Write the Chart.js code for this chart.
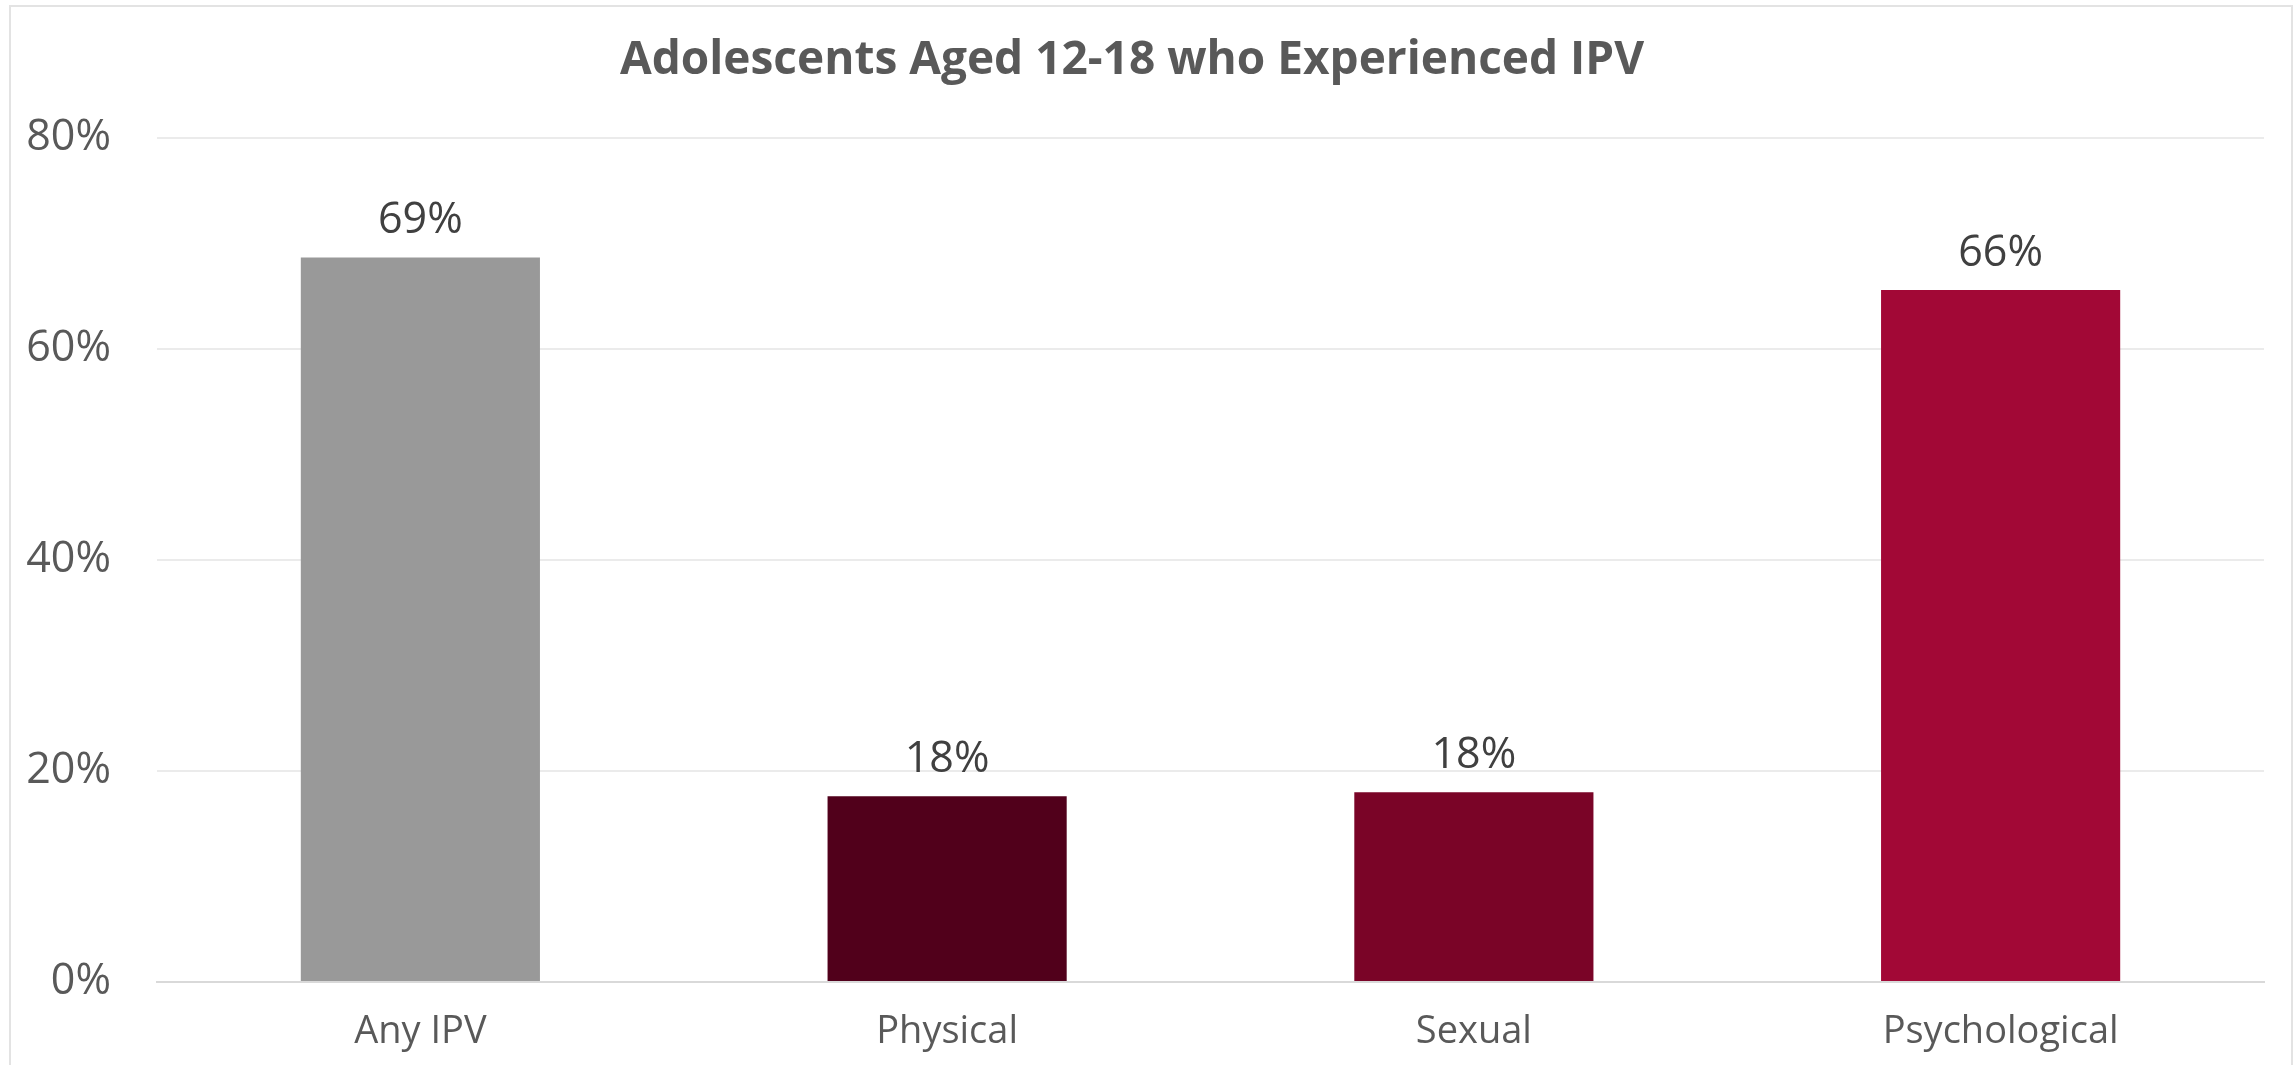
<!DOCTYPE html>
<html>
<head>
<meta charset="utf-8">
<script src="https://cdn.jsdelivr.net/npm/chart.js@4"></script>
<style>
  html, body { margin: 0; padding: 0; background: #fff; }
  #wrap { width: 2295px; height: 1065px; }
</style>
</head>
<body>
<div id="wrap"><canvas id="ipv-chart" width="2295" height="1065"></canvas></div>
<script>
const categories = ["Any IPV", "Physical", "Sexual", "Psychological"]
const percentages = [68.7, 17.6, 18.0, 65.6]
const barColors = ["#999999", "#51001B", "#7A0427", "#A20836"]
const yTicks = [0, 20, 40, 60, 80]

// frame around the whole chart, like the exported Excel image
const framePlugin = {
  id: "frame",
  beforeDraw(chart) {
    const ctx = chart.ctx
    ctx.save()
    ctx.strokeStyle = "#e3e3e3"
    ctx.lineWidth = 2
    ctx.strokeRect(10, 6, chart.width - 13, chart.height + 10)
    ctx.restore()
  }
}

// value labels above each bar
const valueLabels = {
  id: "valueLabels",
  afterDatasetsDraw(chart) {
    const ctx = chart.ctx
    const meta = chart.getDatasetMeta(0)
    ctx.save()
    ctx.font = "43px 'Open Sans'"
    ctx.fillStyle = "#404040"
    ctx.textAlign = "center"
    ctx.textBaseline = "alphabetic"
    meta.data.forEach((bar, i) => {
      ctx.fillText(Math.round(percentages[i]) + "%", bar.x, bar.y - 24)
    })
    ctx.restore()
  }
}

const chart = new Chart(document.getElementById("ipv-chart"), {
  type: "bar",
  data: {
    labels: categories,
    datasets: [{
      data: percentages,
      backgroundColor: barColors,
      borderWidth: 0,
      categoryPercentage: 1,
      barPercentage: 0.454
    }]
  },
  options: {
    responsive: false,
    devicePixelRatio: 1,
    animation: false,
    layout: { padding: { left: 0, right: 31, top: 0, bottom: 0 } },
    plugins: {
      legend: { display: false },
      tooltip: { enabled: false },
      title: {
        display: true,
        text: "Adolescents Aged 12-18 who Experienced IPV",
        color: "#595959",
        font: { family: "'Open Sans'", size: 46, weight: "bold" },
        padding: { top: 33, bottom: 50 }
      }
    },
    scales: {
      x: {
        afterFit(axis) { axis.height = 83 },
        grid: { display: false, drawTicks: false },
        border: { color: "#d9d9d9", width: 2 },
        ticks: {
          color: "#595959",
          font: { family: "'Open Sans'", size: 38 },
          padding: 27
        }
      },
      y: {
        min: 0,
        max: 80,
        afterBuildTicks(axis) {
          axis.ticks = yTicks.map(v => ({ value: v }))
        },
        afterFit(axis) { axis.width = 157 },
        border: { display: false },
        grid: { color: "#ebebeb", lineWidth: 2, drawTicks: false },
        ticks: {
          color: "#595959",
          font: { family: "'Open Sans'", size: 43 },
          padding: 46,
          callback: v => v + "%"
        }
      }
    }
  },
  plugins: [framePlugin, valueLabels]
})
</script>
</body>
</html>
